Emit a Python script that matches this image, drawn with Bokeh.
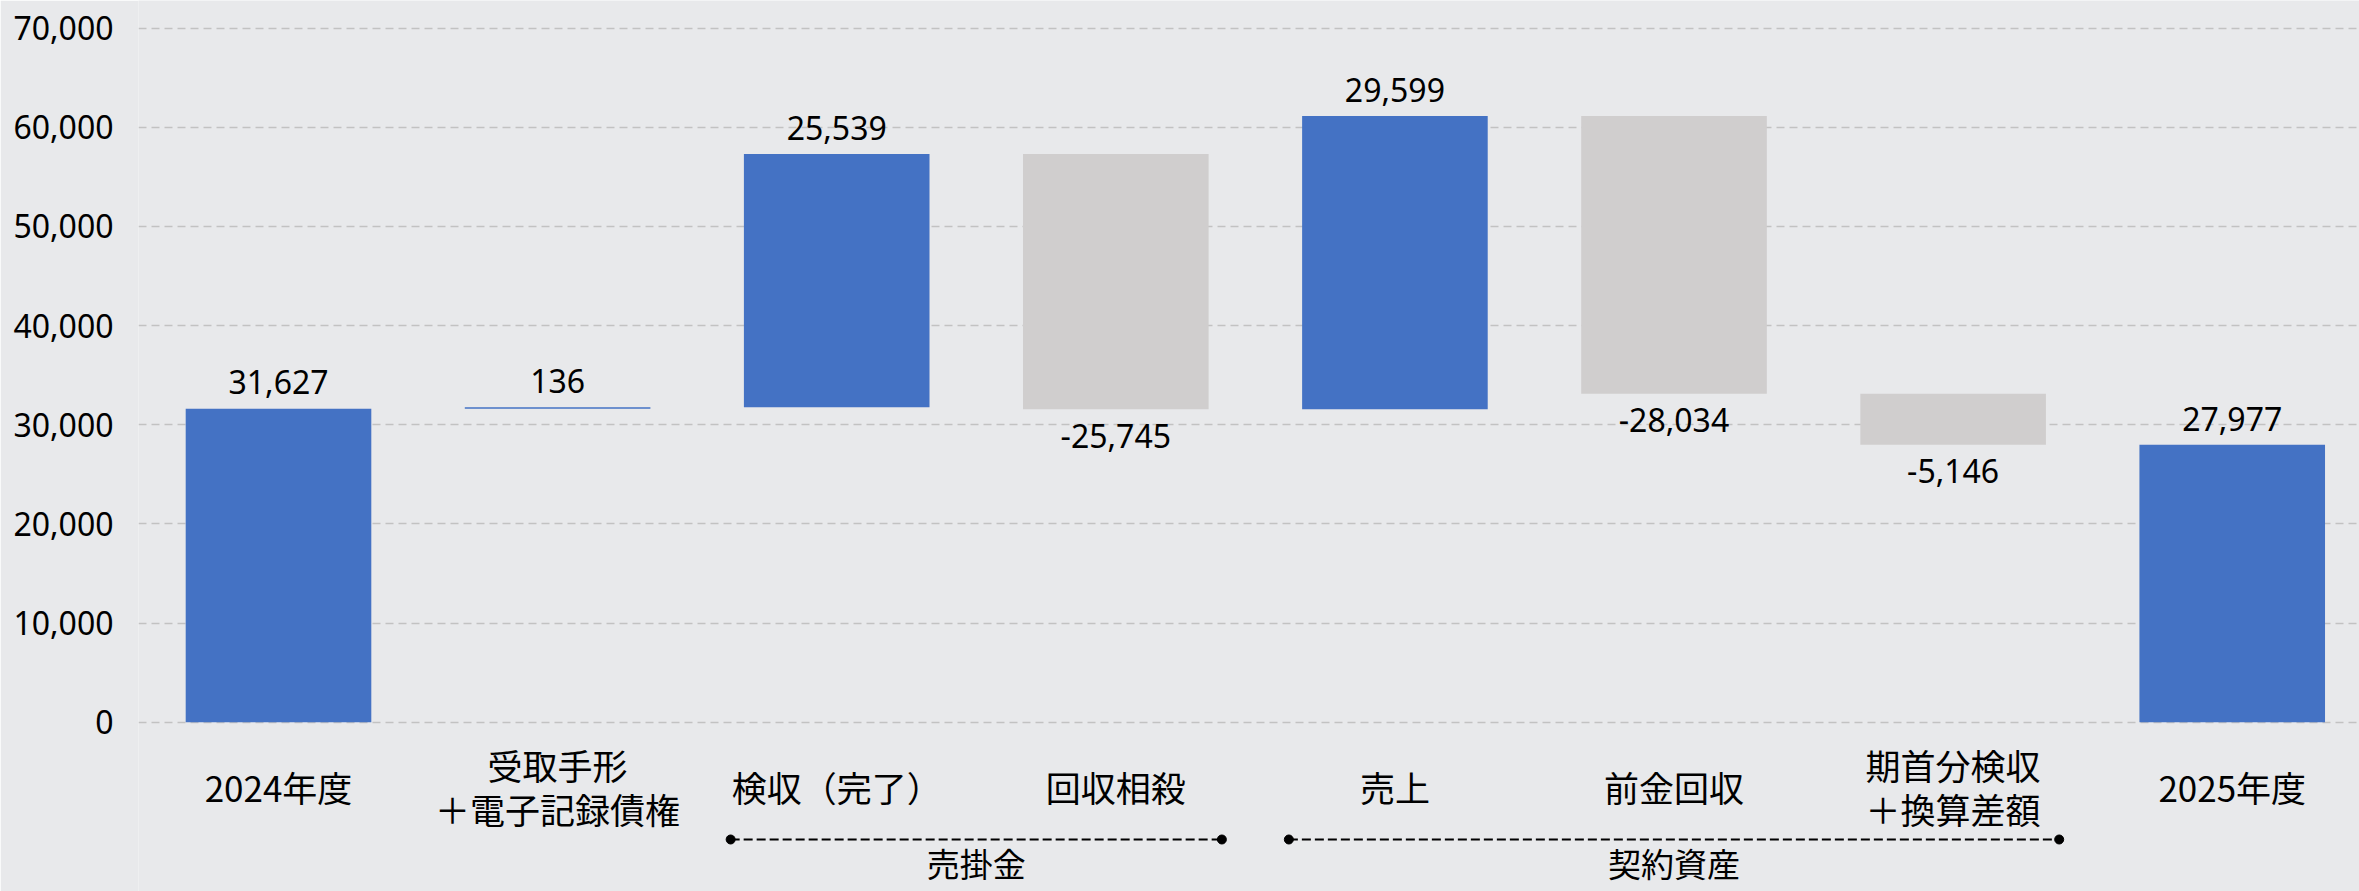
from bokeh.plotting import figure
from bokeh.models import Range1d, FixedTicker, ColumnDataSource, NumeralTickFormatter
from bokeh.core.properties import value
from bokeh.embed import file_html
from bokeh.resources import INLINE

# ---- data ----
categories = ["2024年度", "受取手形\n＋電子記録債権", "検収（完了）", "回収相殺",
              "売上", "前金回収", "期首分検収\n＋換算差額", "2025年度"]
changes = [31627, 136, 25539, -25745, 29599, -28034, -5146, 27977]
is_total = [True, False, False, False, False, False, False, True]
value_labels = ["31,627", "136", "25,539", "-25,745", "29,599", "-28,034", "-5,146", "27,977"]
groups = ["売掛金", "契約資産"]
group_first = [2, 4]
group_last = [3, 6]
y_ticks = [0, 10000, 20000, 30000, 40000, 50000, 60000, 70000]

BLUE = "#4472C4"
GREY = "#D0CECE"
BG = "#E8E9EB"

# ---- waterfall geometry from values ----
bottoms, tops, colors = [], [], []
running = 0
for c, tot in zip(changes, is_total):
    if tot:
        b, t = 0, c
        running = c
    else:
        b, t = running, running + c
        running = t
    bottoms.append(min(b, t))
    tops.append(max(b, t))
    colors.append(BLUE if c >= 0 else GREY)

xs = list(range(len(categories)))
PAD = 2650
label_y = [t + PAD if c >= 0 else b - PAD for c, b, t in zip(changes, bottoms, tops)]

src = ColumnDataSource(dict(x=xs, bottom=bottoms, top=tops, color=colors,
                            ly=label_y, lab=value_labels, cat=categories))

p = figure(width=2359, height=891, output_backend="svg", toolbar_location=None,
           x_range=Range1d(-0.5016, 7.456), y_range=Range1d(-17077, 72794),
           min_border_left=138, min_border_right=0, min_border_top=0, min_border_bottom=0)
p.background_fill_color = BG
p.border_fill_color = BG
p.outline_line_color = None

p.xaxis.visible = False
p.xgrid.visible = False
p.yaxis.ticker = FixedTicker(ticks=y_ticks)
p.yaxis.formatter = NumeralTickFormatter(format="0,0")
p.yaxis.axis_line_color = None
p.yaxis.major_tick_line_color = None
p.yaxis.minor_tick_line_color = None
p.yaxis.major_label_standoff = 19
p.yaxis.major_label_text_font = "Noto Sans"
p.yaxis.major_label_text_font_size = "32px"
p.yaxis.major_label_text_color = "#000000"
p.ygrid.grid_line_color = "#C2C2C2"
p.ygrid.grid_line_dash = "8 5"
p.ygrid.grid_line_width = 1.5

p.vbar(x="x", bottom="bottom", top="top", width=0.665, color="color", source=src, line_color=None)

p.text(x="x", y="ly", text="lab", source=src, text_align="center", text_baseline="middle",
       text_font=value("Noto Sans"), text_font_size="32px", text_color="#000000")

cat_y = -6486
p.text(x="x", y=cat_y, text="cat", source=src, text_align="center", text_baseline="middle",
       text_font=value("Noto Sans CJK JP"), text_font_size="35px", text_color="#000000",
       text_line_height=0.86)

br_y = -11832
for g, f, l in zip(groups, group_first, group_last):
    x0 = f - 0.38
    x1 = l + 0.38
    p.line([x0, x1], [br_y, br_y], line_color="#000000", line_width=2, line_dash="9 4")
    p.scatter([x0, x1], [br_y, br_y], size=9, color="#000000")
    p.text(x=[(f + l) / 2], y=[-14250], text=[g], text_align="center", text_baseline="middle",
           text_font=value("Noto Sans CJK JP"), text_font_size="33px", text_color="#000000")

open("out.html", "w").write(file_html(p, INLINE))
